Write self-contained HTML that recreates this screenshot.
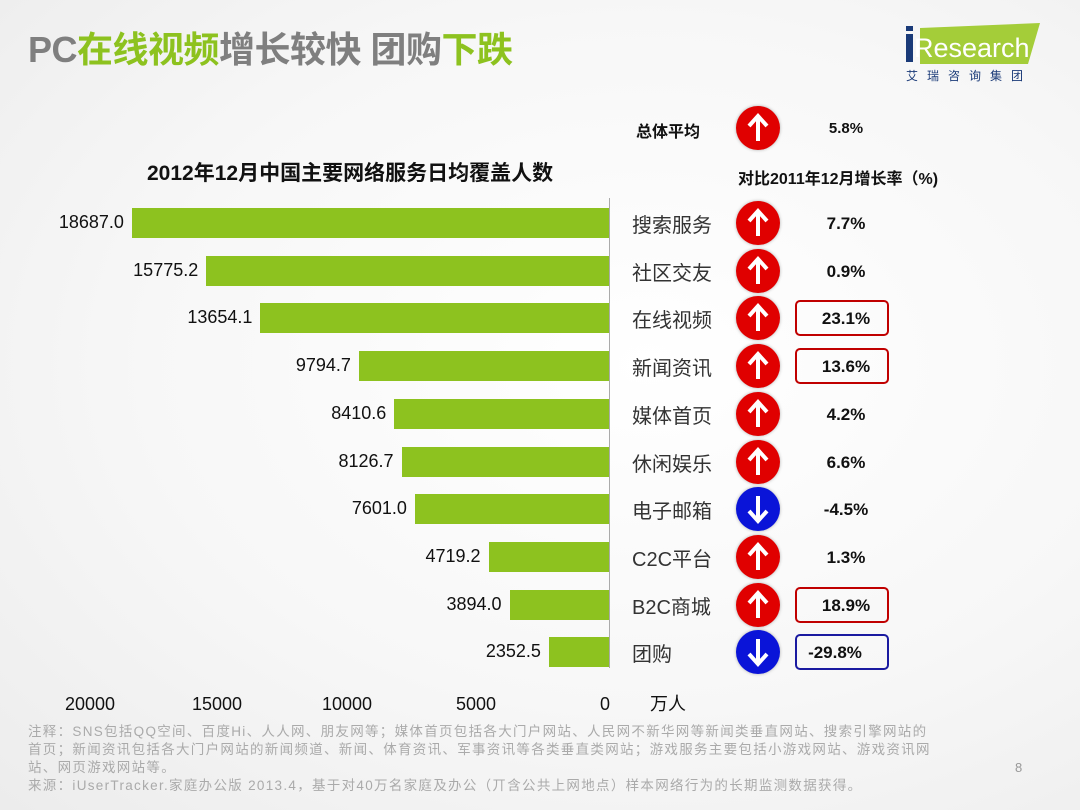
<!DOCTYPE html>
<html><head><meta charset="utf-8"><style>
body{margin:0;width:1080px;height:810px;overflow:hidden;background:radial-gradient(ellipse at 60% 45%,#ffffff 0%,#f7f7f7 55%,#ececec 100%);font-family:"Liberation Sans","Noto Sans CJK SC",sans-serif;position:relative}
.a{position:absolute;white-space:nowrap}
.bar{position:absolute;height:30px;background:#8dc21f}
.val{position:absolute;font-size:18px;color:#111;text-align:right;width:120px}
.cat{position:absolute;left:632px;font-size:20px;color:#333}
.ic{position:absolute;left:736px;width:44px;height:44px;border-radius:50%;box-shadow:0 0 3px rgba(0,0,0,.3)}
.pct{position:absolute;width:100px;left:796px;text-align:center;font-size:17px;font-weight:bold;color:#111}
.box{position:absolute;left:795px;width:90px;height:32px;border:2px solid #c00000;border-radius:5px}
</style></head><body>
<div class="a" style="left:28px;top:21px;font-size:36px;font-weight:bold;color:#7f7f7f;letter-spacing:-0.5px">PC<span style="color:#8dc21f">在线视频</span>增长较快 团购<span style="color:#8dc21f">下跌</span></div>
<svg class="a" style="left:900px;top:20px" width="145" height="62">
<polygon points="20,8 140,3 128,44 20,44" fill="#a4cd39"/>
<rect x="6" y="14" width="7" height="28" fill="#1a3a78"/><rect x="6" y="6" width="7" height="5" fill="#1a3a78"/>
<text x="14" y="37" font-family="Liberation Sans" font-size="27" fill="#fff">Research</text>
</svg>
<div class="a" style="left:906px;top:67px;font-size:12px;color:#1a3a78;letter-spacing:9px">艾瑞咨询集团</div>
<div class="a" style="left:147px;top:157px;font-size:21px;font-weight:bold;color:#111">2012年12月中国主要网络服务日均覆盖人数</div>
<div class="a" style="left:636px;top:118px;font-size:16px;font-weight:bold;color:#111">总体平均</div>
<div class="ic" style="top:106px;background:#e00000"><svg width="44" height="44"><path d="M22 35V12M13 20L22 10L31 20" stroke="#fff" stroke-width="4" fill="none"/></svg></div>
<div class="pct" style="top:120px;font-size:15px">5.8%</div>
<div class="a" style="left:738px;top:165px;font-size:16px;font-weight:bold;color:#111">对比2011年12月增长率（%)</div>
<div class="a" style="left:609px;top:198px;width:1px;height:470px;background:#aaa"></div>
<div id="c"></div>
<div class="a" style="left:65px;top:694px;font-size:18px;color:#111">20000</div>
<div class="a" style="left:192px;top:694px;font-size:18px;color:#111">15000</div>
<div class="a" style="left:322px;top:694px;font-size:18px;color:#111">10000</div>
<div class="a" style="left:456px;top:694px;font-size:18px;color:#111">5000</div>
<div class="a" style="left:600px;top:694px;font-size:18px;color:#111">0</div>
<div class="a" style="left:650px;top:690px;font-size:18px;color:#111">万人</div>
<div class="a" style="left:28px;top:723px;font-size:13.5px;letter-spacing:1.3px;line-height:18px;color:#aaa;white-space:normal;width:980px">注释：SNS包括QQ空间、百度Hi、人人网、朋友网等；媒体首页包括各大门户网站、人民网不新华网等新闻类垂直网站、搜索引擎网站的<br>首页；新闻资讯包括各大门户网站的新闻频道、新闻、体育资讯、军事资讯等各类垂直类网站；游戏服务主要包括小游戏网站、游戏资讯网<br>站、网页游戏网站等。<br>来源：iUserTracker.家庭办公版 2013.4，基于对40万名家庭及办公（丌含公共上网地点）样本网络行为的长期监测数据获得。</div>
<div class="a" style="left:1015px;top:760px;font-size:13px;color:#999">8</div>
<script>
var d=[["搜索服务",18687.0,"7.7%",1,0],["社区交友",15775.2,"0.9%",1,0],["在线视频",13654.1,"23.1%",1,"r"],["新闻资讯",9794.7,"13.6%",1,"r"],["媒体首页",8410.6,"4.2%",1,0],["休闲娱乐",8126.7,"6.6%",1,0],["电子邮箱",7601.0,"-4.5%",0,0],["C2C平台",4719.2,"1.3%",1,0],["B2C商城",3894.0,"18.9%",1,"r"],["团购",2352.5,"-29.8%",0,"b"]];
var h="";
d.forEach(function(r,i){var cy=223+i*47.7;var w=r[1]*0.02553;var L=609-w;
h+='<div class="bar" style="left:'+L+'px;top:'+(cy-15)+'px;width:'+w+'px"></div>';
h+='<div class="val" style="left:'+(L-128)+'px;top:'+(cy-11)+'px">'+r[1].toFixed(1)+'</div>';
h+='<div class="cat" style="top:'+(cy-14)+'px">'+r[0]+'</div>';
var p=r[3]?'M22 35V12M13 20L22 10L31 20':'M22 9V32M13 24L22 34L31 24';
h+='<div class="ic" style="top:'+(cy-22)+'px;background:'+(r[3]?'#e00000':'#0a14d8')+'"><svg width="44" height="44"><path d="'+p+'" stroke="#fff" stroke-width="4" fill="none"/></svg></div>';
if(r[4])h+='<div class="box" style="top:'+(cy-18)+'px;border-color:'+(r[4]=="r"?"#c00000":"#1a1aa0")+'"></div>';
h+='<div class="pct" style="top:'+(cy-9)+'px;'+(r[4]=="b"?'left:785px':'')+'">'+r[2]+'</div>';});
document.getElementById("c").innerHTML=h;
</script>
</body></html>
